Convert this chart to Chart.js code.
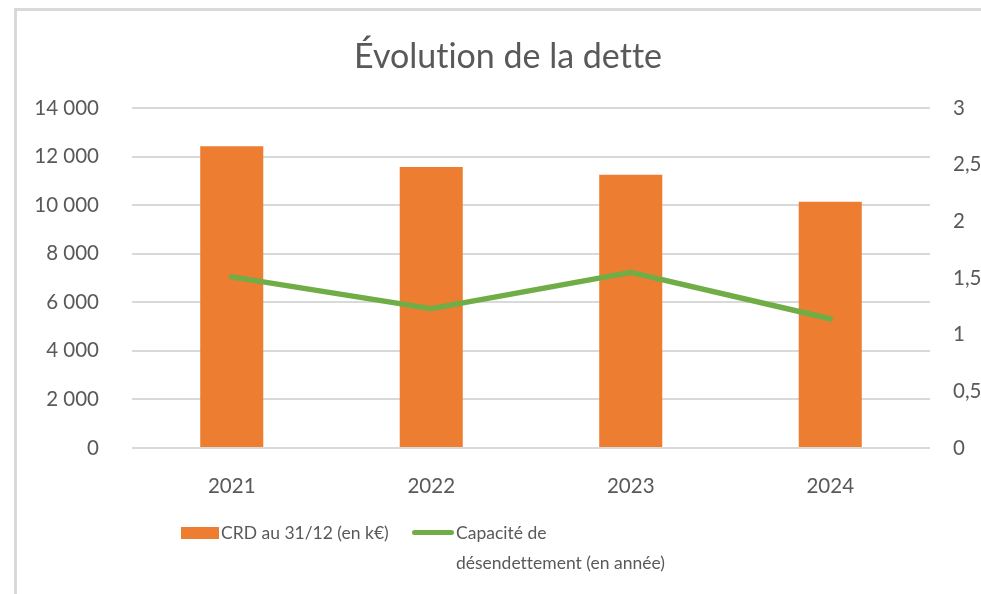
<!DOCTYPE html>
<html>
<head>
<meta charset="utf-8">
<script src="https://cdn.jsdelivr.net/npm/chart.js@4"></script>
<style>
  html, body { margin: 0; padding: 0; background: #fff; overflow: hidden; }
  body { width: 981px; height: 594px; position: relative; font-family: Lato, sans-serif; color: #595959;
         font-variant-ligatures: none; }
  #frame { position: absolute; left: 14px; top: 8px; width: 1000px; height: 700px;
           border-left: 3px solid #d9d9d9; border-top: 3px solid #d9d9d9; }
  #chart { position: absolute; left: 0; top: 0; }
  #title { position: absolute; left: 0; width: 1016px; top: 35px; text-align: center;
           font-size: 34px; line-height: 40px; }
  .legend { position: absolute; font-size: 17.5px; line-height: 30px; }
  .swatch { position: absolute; }
</style>
</head>
<body>
<div id="frame"></div>
<canvas id="chart" width="981" height="594"></canvas>
<div id="title">Évolution de la dette</div>
<div class="swatch" style="left:181px;top:527px;width:38px;height:12px;background:#ed7d31"></div>
<div class="legend" style="left:221px;top:518px">CRD au 31/12 (en k€)</div>
<div class="swatch" style="left:412px;top:530px;width:42px;height:5px;border-radius:3px;background:#70ad47"></div>
<div class="legend" style="left:456px;top:518px">Capacité de<br>désendettement (en année)</div>
<script>
const years = ['2021', '2022', '2023', '2024'];
const crd = [12420, 11570, 11250, 10140];        // k€
const capacite = [1.51, 1.23, 1.55, 1.14];       // années

const grey = '#595959';
const tickFont = { family: 'Lato', size: 20.5 };

function frNumber(v) {
  return String(v).replace(/\B(?=(\d{3})+(?!\d))/g, ' ');
}

const ctx = document.getElementById('chart').getContext('2d');

new Chart(ctx, {
  data: {
    labels: years,
    datasets: [
      {
        type: 'line',
        label: 'Capacité de désendettement (en année)',
        data: capacite,
        yAxisID: 'y1',
        borderColor: '#70ad47',
        borderWidth: 5.5,
        borderCapStyle: 'round',
        borderJoinStyle: 'round',
        pointRadius: 0,
        tension: 0,
        order: 0
      },
      {
        type: 'bar',
        label: 'CRD au 31/12 (en k€)',
        data: crd,
        yAxisID: 'y',
        backgroundColor: '#ed7d31',
        categoryPercentage: 1,
        barPercentage: 0.316,
        order: 1
      }
    ]
  },
  options: {
    responsive: false,
    animation: false,
    layout: { padding: { top: 108, left: 0, right: 0, bottom: 0 } },
    plugins: {
      legend: { display: false },
      title: { display: false },
      tooltip: { enabled: false }
    },
    scales: {
      x: {
        grid: { display: false },
        border: { display: false },
        ticks: { color: grey, font: tickFont, padding: 18 },
        afterFit: (scale) => { scale.height = 146; }
      },
      y: {
        position: 'left',
        min: 0,
        max: 14000,
        ticks: { stepSize: 2000, color: grey, font: tickFont, padding: 33, callback: (v) => frNumber(v) },
        grid: { color: '#d9d9d9', lineWidth: 2, drawTicks: false },
        border: { display: false },
        afterFit: (scale) => { scale.width = 132; }
      },
      y1: {
        position: 'right',
        min: 0,
        max: 3,
        ticks: { stepSize: 0.5, color: grey, font: tickFont, padding: 23, callback: (v) => String(v).replace('.', ',') },
        grid: { drawOnChartArea: false, drawTicks: false },
        border: { display: false },
        afterFit: (scale) => { scale.width = 51; }
      }
    }
  }
});
</script>
</body>
</html>
